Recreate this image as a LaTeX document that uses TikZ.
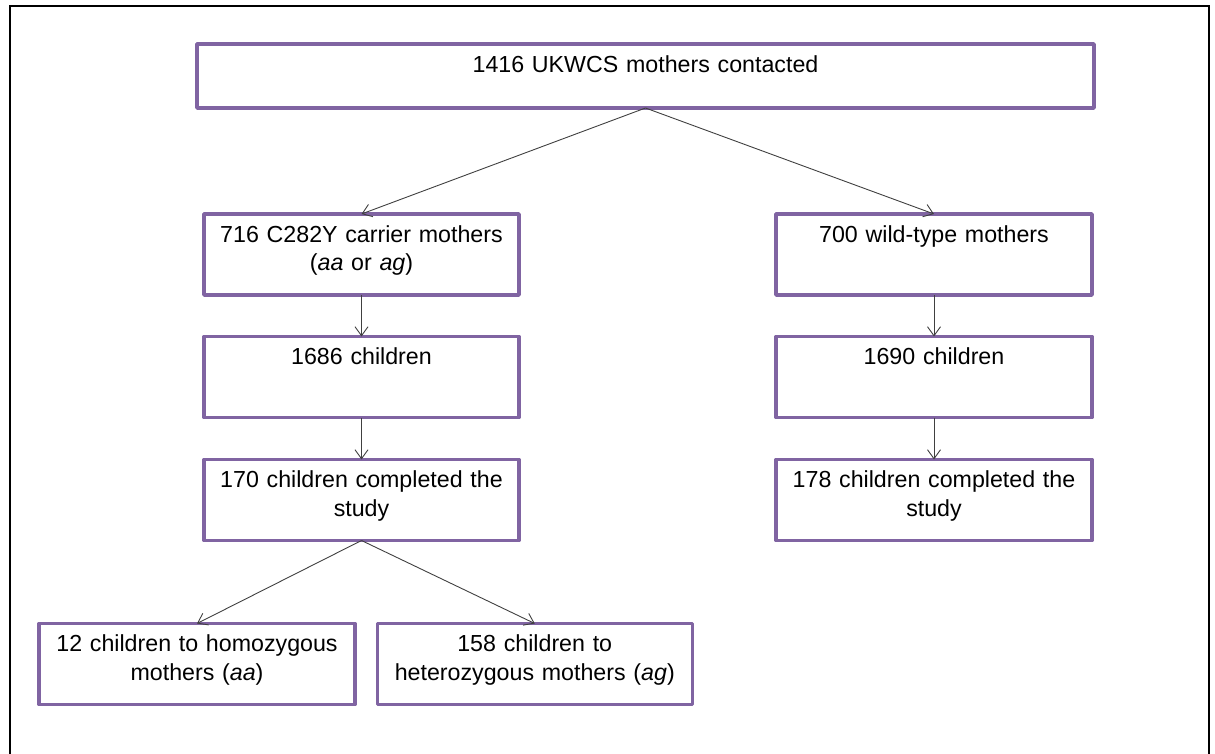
\documentclass[tikz,border=0pt]{standalone}
\usepackage{fontspec}
\setmainfont{Liberation Sans}
\usetikzlibrary{arrows.meta}
\definecolor{boxpurple}{RGB}{128,100,162}
\definecolor{linkgray}{RGB}{64,64,64}
\begin{document}
\begin{tikzpicture}[x=1bp,y=-1bp,
  box/.style={draw=boxpurple, line width=3.4bp, line join=round, rectangle,
    inner sep=0pt, outer sep=0pt, minimum height=81bp, minimum width=315bp},
  txt/.style={anchor=base, inner sep=0pt, text width=#1, align=center,
    font=\fontsize{23.3}{29}\selectfont},
  txt/.default=300bp,
  link/.style={draw=linkgray, line width=0.9bp,
    -{Straight Barb[length=9bp,width=13bp]}}]
\useasboundingbox (0,0) rectangle (1215,754);
% open frame around the chart
\draw[line width=2bp] (9.5,760) -- (9.5,6.5) -- (1208.5,6.5) -- (1208.5,760);

% boxes
\node[box, minimum width=897bp, minimum height=64bp] (top) at (645.5,76) {};
\node[box] (carrier)  at (361.5,254.5) {};
\node[box] (cchild)   at (361.5,377) {};
\node[box] (cdone)    at (361.5,500) {};
\node[box, minimum width=316bp] (wild)  at (934,254.5) {};
\node[box, minimum width=316bp] (wchild) at (934,377) {};
\node[box, minimum width=316bp] (wdone)  at (934,500) {};
\node[box, minimum width=316bp] (homo)  at (197,664) {};
\node[box] (hetero) at (534.75,664) {};

% box texts, first baseline a fixed distance below each box top
\node[txt=800bp] (ttop) at ([yshift=-29bp]top.north) {1416 UKWCS mothers contacted};
\node[txt] (tcarrier) at ([yshift=-28bp]carrier.north) {716 C282Y carrier mothers\\(\textit{aa} or \textit{ag})};
\node[txt] (tcchild) at ([yshift=-28bp]cchild.north) {1686 children};
\node[txt] (tcdone) at ([yshift=-28bp]cdone.north) {170 children completed the\\study};
\node[txt] (twild) at ([yshift=-28bp]wild.north) {700 wild-type mothers};
\node[txt] (twchild) at ([yshift=-28bp]wchild.north) {1690 children};
\node[txt] (twdone) at ([yshift=-28bp]wdone.north) {178 children completed the\\study};
\node[txt] (thomo) at ([yshift=-28bp]homo.north) {12 children to homozygous\\mothers (\textit{aa})};
\node[txt] (thetero) at ([yshift=-28bp]hetero.north) {158 children to\\heterozygous mothers (\textit{ag})};

% connectors
\draw[link] (top.south) -- (carrier.north);
\draw[link] (top.south) -- (wild.north);
\draw[link] (carrier.south) -- (cchild.north);
\draw[link] (cchild.south) -- (cdone.north);
\draw[link] (wild.south) -- (wchild.north);
\draw[link] (wchild.south) -- (wdone.north);
\draw[link] (cdone.south) -- (homo.north);
\draw[link] (cdone.south) -- (hetero.north);
\end{tikzpicture}
\end{document}
